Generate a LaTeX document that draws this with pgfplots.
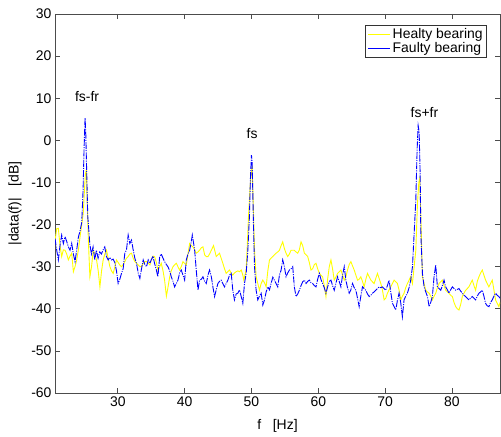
\documentclass[border=0pt]{standalone}
\usepackage{fontspec}
\setmainfont{Liberation Sans}
\usepackage{pgfplots}
\pgfplotsset{compat=1.18}
\usepackage{pgfplotstable}

\pgfplotstableread{
f v
20.6 -24
20.85 -21
21.1 -20.9
21.35 -25
21.6 -27.6
21.85 -26
22.1 -26.1
22.35 -27
22.6 -28.4
22.85 -27.5
23.1 -26.8
23.35 -31.2
23.6 -30
23.85 -28.4
24.1 -26
24.35 -22.9
24.6 -20
24.83 -17.3
25.0 -12
25.15 -8
25.3 -7
25.4 -14
25.6 -24
25.82 -32.4
26.07 -30
26.32 -26.1
26.57 -27
26.82 -28.4
27.07 -31
27.32 -34.8
27.57 -31
27.81 -28.4
28.06 -27
28.31 -26.1
28.56 -28
28.81 -30
29.06 -31
29.31 -31.6
29.56 -30
29.8 -28.4
30.05 -29
30.3 -29.6
30.55 -30
30.8 -29.5
31.05 -28.8
31.3 -28
31.55 -27.6
31.8 -27
32.05 -26.8
32.3 -28
32.55 -28.8
32.8 -29.2
33.05 -29.6
33.3 -30
33.55 -30
33.8 -29.2
34.05 -28.8
34.3 -28.8
34.55 -29.2
34.8 -29.6
35.0 -28.4
35.27 -27.5
35.5 -27.6
35.77 -29
36.0 -30.8
36.27 -30
36.5 -29.2
36.77 -31
37.0 -33.2
37.27 -37
37.5 -35
37.77 -32.4
38.0 -31
38.26 -30
38.5 -29.6
38.76 -29.2
39.0 -30
39.25 -30.8
39.5 -30
39.75 -28.8
40.0 -29.2
40.25 -29.6
40.5 -27
40.75 -24.5
41.0 -25
41.25 -25.3
41.5 -26
41.74 -26.8
42.0 -26.5
42.24 -26.1
42.5 -25.5
42.74 -25.3
43.0 -27.2
43.24 -27.6
43.5 -27.6
43.73 -27
44.0 -26.1
44.23 -25.3
44.33 -25
44.48 -26
44.73 -27.6
44.98 -27.2
45.22 -26.8
45.47 -28
45.72 -29.2
45.97 -30.5
46.22 -31.6
46.47 -31.2
46.72 -30.8
46.97 -31.6
47.21 -32
47.46 -31.5
47.71 -31.2
47.96 -31
48.21 -31.2
48.47 -30.8
48.71 -32
48.86 -33.2
49.21 -30.8
49.46 -22
49.56 -18
49.8 -11
50.0 -7
50.1 -6.5
50.25 -14
50.46 -26.1
50.7 -32.4
50.95 -34
51.2 -35.6
51.45 -34
51.7 -33.2
51.95 -33.8
52.2 -34.8
52.45 -31
52.7 -28.4
52.94 -28
53.2 -27.6
53.44 -27.2
53.69 -26.8
53.94 -26.5
54.19 -26.1
54.44 -25
54.68 -24.1
54.93 -25.7
55.18 -26.8
55.43 -27.6
55.68 -27
55.93 -26.1
56.18 -26.1
56.42 -26.1
56.67 -26.5
56.92 -26.8
57.17 -26
57.42 -24.1
57.67 -25
57.92 -26.8
58.17 -27.2
58.42 -27.6
58.66 -29
58.91 -30.8
59.16 -30.5
59.41 -29.5
59.66 -29.2
59.91 -30.5
60.16 -31.6
60.4 -32
60.65 -32.4
60.9 -34.5
61.15 -37.1
61.4 -33
61.65 -30
61.9 -28.4
62.14 -30.5
62.39 -33.2
62.64 -32.5
62.89 -31.6
63.14 -31.2
63.39 -30.8
63.64 -32
63.89 -33.2
64.13 -32.4
64.38 -30.8
64.63 -29.5
64.88 -28.8
65.13 -29.8
65.38 -30.8
65.63 -32
65.88 -33.2
66.12 -33
66.37 -32.4
66.62 -33.5
66.87 -34.8
67.12 -33
67.37 -31.6
67.62 -32.4
67.87 -33.2
68.11 -33.6
68.36 -34
68.61 -32.8
68.86 -31.6
69.11 -32.8
69.36 -34
69.61 -35.6
69.86 -37.9
70.1 -37.5
70.35 -36.3
70.6 -35.5
70.85 -34.8
71.1 -34
71.35 -33.2
71.6 -33.6
71.85 -34
72.09 -35.5
72.34 -37.9
72.59 -37
72.84 -36.3
73.09 -35
73.34 -34
73.59 -33.2
73.84 -32.4
74.1 -34
74.35 -30
74.6 -26.1
74.85 -15
75.05 -10
75.2 -9
75.35 -18
75.59 -32.4
75.84 -34
76.09 -35.6
76.34 -36
76.59 -36.3
76.83 -37
77.08 -37.9
77.33 -37
77.58 -36.3
77.83 -35
78.08 -34
78.33 -33.6
78.58 -33.2
78.82 -34.5
79.07 -35.6
79.32 -36
79.57 -36.3
79.82 -36.8
80.07 -37.1
80.32 -38.5
80.57 -39.5
80.81 -40
81.06 -40.3
81.31 -39
81.56 -37.1
81.81 -36.3
82.06 -35.6
82.31 -35.2
82.55 -34.8
82.8 -34
83.05 -33.2
83.3 -34.5
83.55 -35.6
83.8 -33.5
84.05 -32.4
84.3 -31.5
84.55 -30.8
84.79 -32
85.04 -33.2
85.29 -34
85.54 -34.8
85.79 -34
86.04 -33.2
86.29 -35.5
86.54 -37.9
86.78 -38.7
87.03 -39.5
87.2 -38.5
}\healthy

\pgfplotstableread{
f v
20.6 -23.3
20.85 -26
21.1 -28.4
21.35 -25
21.6 -22.5
21.85 -24.5
22.1 -22.9
22.35 -24
22.6 -25.3
22.85 -26.1
23.1 -24.5
23.35 -27
23.6 -28.8
23.85 -26
24.1 -23
24.35 -21.5
24.6 -19.5
24.8 -12
24.95 -2
25.1 5.3
25.2 2
25.35 -8
25.5 -18
25.6 -20
25.8 -24.5
26.05 -27
26.3 -25.3
26.55 -28.4
26.8 -26.1
27.05 -28
27.3 -26.5
27.55 -27
27.8 -26
28.05 -25.3
28.3 -27.6
28.55 -28.4
28.8 -27.8
29.05 -28.4
29.3 -28.2
29.55 -29
29.8 -31
30.05 -34
30.3 -33
30.55 -31.6
30.8 -30.5
31.05 -26.8
31.3 -26
31.55 -22.5
31.8 -24.5
32.05 -23.7
32.3 -26
32.55 -28
32.8 -29.2
33.05 -31.5
33.3 -32.8
33.55 -30.5
33.8 -28.4
34.05 -29.5
34.3 -30
34.55 -28.4
34.8 -29.2
35.0 -28.4
35.27 -27.5
35.5 -29.2
35.77 -30.8
36.0 -32.4
36.27 -27.6
36.5 -27
36.77 -28
37.0 -28.8
37.27 -29.5
37.5 -30
37.77 -31
38.0 -32.4
38.26 -33.5
38.5 -34.8
38.76 -34
39.0 -33.2
39.25 -31.5
39.5 -30.8
39.75 -32
40.0 -33.2
40.25 -28.4
40.5 -27
40.75 -26.1
41.0 -24
41.15 -22.5
41.35 -24.5
41.5 -26.1
41.74 -30.8
42.0 -35.6
42.24 -33.2
42.5 -33
42.74 -32.4
43.0 -33.5
43.24 -34
43.5 -32
43.73 -30.8
44.0 -32.4
44.23 -34.8
44.48 -37.1
44.73 -35.5
44.98 -34
45.22 -33.5
45.47 -33.2
45.72 -34
45.97 -34.8
46.22 -34
46.47 -33.2
46.72 -32
46.97 -31.6
47.21 -35.6
47.46 -37.9
47.71 -36.5
47.96 -36.3
48.21 -35.5
48.47 -37.1
48.71 -38.7
48.96 -34
49.21 -31.6
49.46 -26.1
49.7 -18
49.85 -9
50.0 -3.5
50.1 -5
50.2 -12
50.3 -20
50.46 -30
50.7 -35.6
50.95 -37.9
51.2 -37
51.45 -36.3
51.7 -39.1
51.95 -37.9
52.2 -36
52.45 -34.8
52.7 -35.5
52.94 -34
53.2 -32.5
53.44 -33.2
53.69 -34
53.94 -34.8
54.19 -32
54.44 -30.8
54.68 -28.4
54.93 -30
55.18 -32.4
55.43 -31.5
55.68 -30.8
55.93 -30.5
56.18 -30
56.42 -34.8
56.67 -37.1
56.92 -36.5
57.17 -35.6
57.42 -34.5
57.67 -33.6
57.92 -33.2
58.17 -34
58.42 -33.5
58.66 -33.2
58.91 -33.8
59.16 -34
59.41 -34.5
59.66 -34.8
59.91 -33
60.16 -31.6
60.4 -33
60.65 -34
60.9 -35
61.15 -36.3
61.4 -34.8
61.65 -33.5
61.9 -33.2
62.14 -34.5
62.39 -35.6
62.64 -34
62.89 -32.4
63.14 -33.5
63.39 -34.8
63.64 -32
63.89 -30
64.13 -33.2
64.38 -35
64.63 -36.3
64.88 -35.5
65.13 -34
65.38 -35
65.63 -35.6
65.88 -37.5
66.12 -39.5
66.37 -37
66.62 -34.8
66.87 -35.2
67.12 -35.6
67.37 -36.5
67.62 -37.1
67.87 -36.8
68.11 -36.3
68.36 -36
68.61 -35.6
68.86 -35.2
69.11 -34.8
69.36 -35
69.61 -34.8
69.86 -35.2
70.1 -35.6
70.35 -34.5
70.6 -33.2
70.85 -36
71.1 -38.7
71.35 -39.5
71.6 -40.3
71.85 -38
72.09 -36.3
72.34 -38.5
72.59 -41.9
72.84 -37.9
73.09 -37
73.34 -36.3
73.59 -35
73.84 -33.2
74.1 -30
74.35 -22.1
74.6 -14.2
74.8 -2
74.95 3.5
75.1 2
75.25 -8
75.35 -22.1
75.59 -31.6
75.84 -34.8
76.09 -36
76.34 -37.1
76.59 -39.5
76.83 -38.5
77.08 -37.1
77.33 -32.4
77.58 -29.6
77.83 -34.8
78.08 -35.2
78.33 -35.6
78.58 -34.5
78.82 -33.2
79.07 -34.8
79.32 -35.5
79.57 -36.3
79.82 -35.5
80.07 -34.8
80.32 -35.2
80.57 -35.6
80.81 -35.4
81.06 -35.2
81.31 -35.8
81.56 -36.3
81.81 -36.8
82.06 -37.1
82.31 -37.5
82.55 -37.9
82.8 -37.5
83.05 -37.1
83.3 -37.5
83.55 -37.9
83.8 -37
84.05 -36.3
84.3 -36
84.55 -35.6
84.79 -37
85.04 -38.7
85.29 -39.3
85.54 -39.5
85.79 -38.5
86.04 -37.9
86.29 -37
86.54 -36.3
86.78 -36.8
87.03 -37.1
87.2 -37.5
}\faulty

\begin{document}
\begin{tikzpicture}
\begin{axis}[
  scale only axis,
  width=445bp, height=379bp,
  xmin=20.6, xmax=87.2, ymin=-60, ymax=30,
  xtick={30,40,...,80}, ytick={-60,-50,...,30},
  tick align=inside, major tick length=5bp,
  axis line style={black!70, line width=0.7bp},
  tick style={black!70, line width=0.7bp},
  /pgf/number format/assume math mode=true,
  tick label style={font=\fontsize{14}{14}\selectfont},
  label style={font=\fontsize{14}{14}\selectfont},
  xlabel={f\ \ \ [Hz]},
  ylabel={|data(f)|\ \ \ [dB]},
  xlabel style={yshift=-6bp},
  ylabel style={yshift=3bp},
  legend style={at={(1,1)}, anchor=north east, xshift=-13bp, yshift=-11bp,
    draw=black!80, line width=0.7bp, font=\fontsize{14}{12}\selectfont,
    inner xsep=2bp, inner ysep=1.5bp, row sep=-2bp},
  legend cell align=left,
  legend image code/.code={\draw[#1, solid] (0bp,0bp) -- (22bp,0bp);},
  clip=true,
]
\addplot[color={rgb,255:red,255;green,255;blue,0}, line width=0.9bp] table[x=f,y=v] {\healthy};
\addlegendentry{Healty bearing}
\addplot[color={rgb,255:red,0;green,0;blue,255}, line width=0.9bp, dash pattern=on 7bp off 1.2bp on 1bp off 1.2bp] table[x=f,y=v] {\faulty};
\addlegendentry{Faulty bearing}
\node[font=\fontsize{14}{14}\selectfont] at (axis cs:25.4,10.3) {fs-fr};
\node[font=\fontsize{14}{14}\selectfont] at (axis cs:50.1,1.7) {fs};
\node[font=\fontsize{14}{14}\selectfont] at (axis cs:75.9,6.7) {fs+fr};
\end{axis}
\pgfresetboundingbox
\path ([xshift=-55bp,yshift=-44bp]current axis.south west) rectangle ([xshift=1bp,yshift=14bp]current axis.north east);
\end{tikzpicture}
\end{document}
